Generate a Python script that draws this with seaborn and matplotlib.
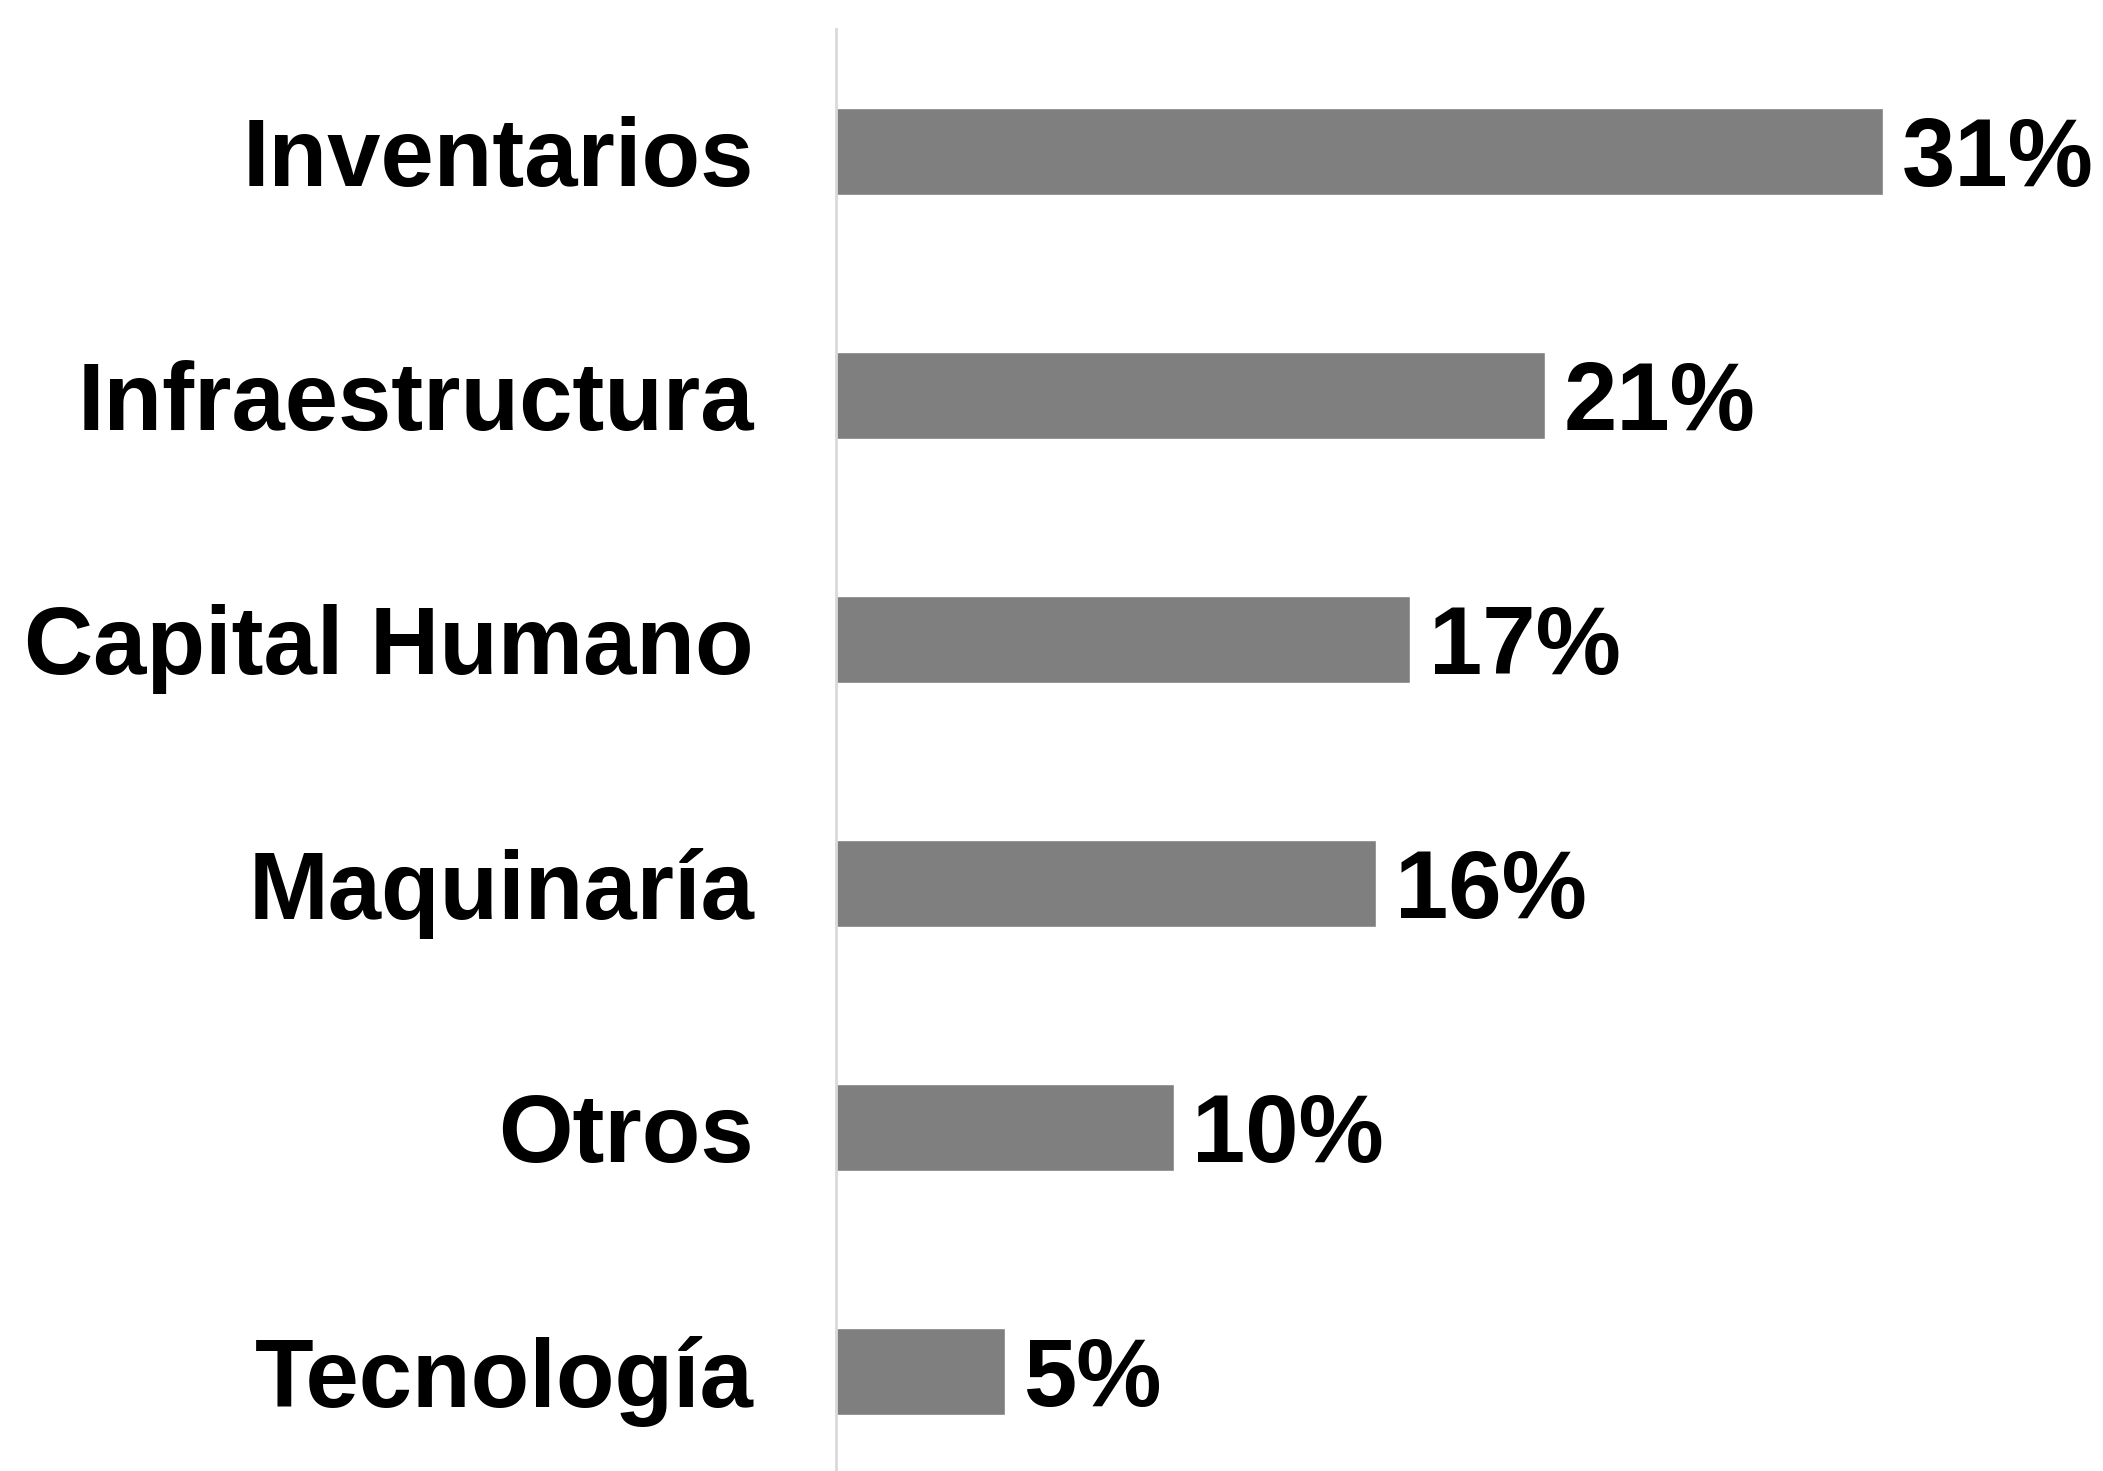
import pandas as pd
import matplotlib
matplotlib.use('Agg')
import matplotlib.pyplot as plt
import seaborn as sns

categorias = ['Inventarios', 'Infraestructura', 'Capital Humano', 'Maquinaría', 'Otros', 'Tecnología']
valores = [31, 21, 17, 16, 10, 5]
etiquetas = ['31%', '21%', '17%', '16%', '10%', '5%']

df = pd.DataFrame({'categoria': categorias, 'valor': valores})

sns.set_style('white')
plt.rcParams['font.family'] = ['Liberation Sans', 'DejaVu Sans']
plt.rcParams['font.weight'] = 'bold'

fig = plt.figure(figsize=(21.03, 14.71), dpi=100)
ax = fig.add_axes([836 / 2103, 0, (2090 - 836) / 2103, 1 - 29 / 1471])

sns.barplot(data=df, y='categoria', x='valor', orient='h', color='#7f7f7f',
            saturation=1, width=0.357, ax=ax)

ax.set_xlim(0, (2090 - 836) / 33.77)
ax.set_ylim(5.408, -0.502)

# etiquetas de porcentaje al final de cada barra
for i, t in enumerate(etiquetas):
    ax.text(valores[i] + 0.55, i, t, va='center_baseline', ha='left',
            fontsize=69, fontweight='bold', color='black', clip_on=False)

ax.set_xlabel('')
ax.set_ylabel('')
ax.set_xticks([])
ax.tick_params(axis='y', length=0, pad=59, labelsize=69, labelcolor='black')
for lab in ax.get_yticklabels():
    lab.set_fontweight('bold')

for s in ['top', 'right', 'bottom']:
    ax.spines[s].set_visible(False)
ax.spines['left'].set_color('#d9d9d9')
ax.spines['left'].set_linewidth(2)

fig.savefig('out.png', dpi=100)
